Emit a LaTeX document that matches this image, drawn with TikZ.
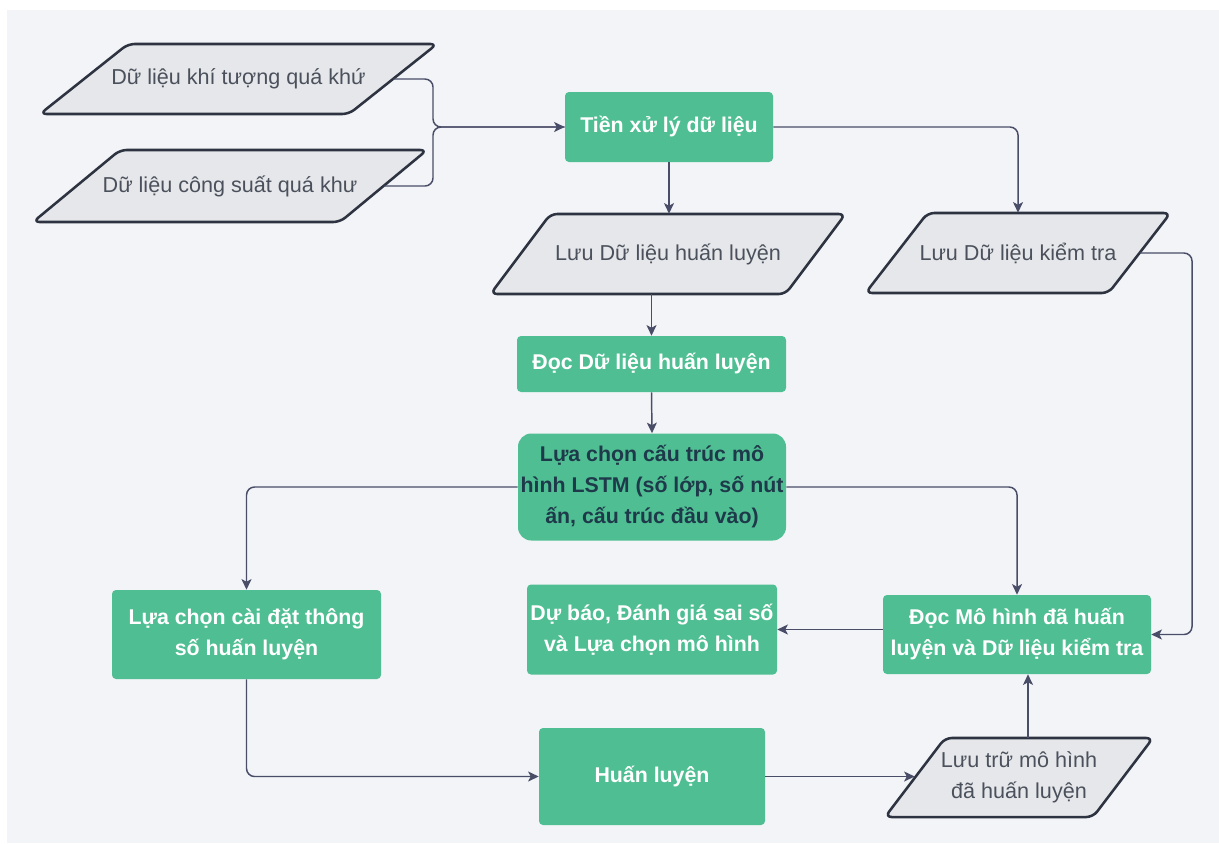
\documentclass[tikz,border=0pt]{standalone}
\usepackage{fontspec}
\setmainfont{Liberation Sans}
\usetikzlibrary{arrows.meta,calc}
\definecolor{bgc}{HTML}{F2F4F7}
\definecolor{grn}{HTML}{4FBF93}
\definecolor{parafill}{HTML}{E6E7EA}
\definecolor{paraedge}{HTML}{2D3340}
\definecolor{conncol}{HTML}{4A4D68}
\definecolor{paratxt}{HTML}{4B515C}
\definecolor{darktxt}{HTML}{1E3A4A}
% #1 name, #2 cx, #3 cy, #4 side width, #5 height, #6 horizontal offset, #7 text
\newcommand{\paranode}[7]{%
  \draw[parashape] ({#2-#4/2+#6/2},{#3-#5/2}) -- ({#2+#4/2+#6/2},{#3-#5/2})
     -- ({#2+#4/2-#6/2},{#3+#5/2}) -- ({#2-#4/2-#6/2},{#3+#5/2}) -- cycle;
  \node[paratext, minimum width=#4*0.75pt, minimum height=#5*0.75pt] (#1) at (#2,#3) {#7};
}
\begin{document}
\begin{tikzpicture}[x=0.75pt,y=-0.75pt,
  box/.style={fill=grn, rounded corners=3pt, inner sep=0pt, align=center, text=white,
    font=\fontsize{16}{23.25}\selectfont\bfseries},
  parashape/.style={fill=parafill, draw=paraedge, line width=1.9pt, rounded corners=5pt, line join=round},
  paratext/.style={inner sep=0pt, align=center, text=paratxt, font=\fontsize{16.2}{23.25}\selectfont},
  conn/.style={draw=conncol, line width=1.1pt, rounded corners=6pt, -{Stealth[length=8pt,width=7.5pt,inset=2pt]}},
  plain/.style={draw=conncol, line width=1.1pt, rounded corners=6pt}]
\useasboundingbox (0,0) rectangle (1219,843);
\fill[white] (0,0) rectangle (1219,843);
\fill[bgc] (7,10) rectangle (1219,843);

% parallelograms
\paranode{pa}{238.5}{79}{309}{70}{88}{Dữ liệu khí tượng quá khứ}
\paranode{pb}{230}{186}{307}{72}{87}{Dữ liệu công suất quá khư}
\paranode{pc}{668}{254}{295}{80}{60}{Lưu Dữ liệu huấn luyện}
\paranode{pd}{1018}{253}{243}{80}{62}{Lưu Dữ liệu kiểm tra}
\paranode{pe}{1019}{777.5}{208}{79}{60}{Lưu trữ mô hình\\đã huấn luyện}

% boxes
\node[box, minimum width=208*0.75pt, minimum height=70*0.75pt] (tx) at (669,127) {Tiền xử lý dữ liệu};
\node[box, minimum width=269*0.75pt, minimum height=56*0.75pt] (dd) at (651.5,364) {Đọc Dữ liệu huấn luyện};
\node[box, rounded corners=10pt, text=darktxt, minimum width=268*0.75pt, minimum height=107*0.75pt] (lc) at (652,487)
  {Lựa chọn cấu trúc mô\\hình LSTM (số lớp, số nút\\ấn, cấu trúc đầu vào)};
\node[box, minimum width=269*0.75pt, minimum height=89*0.75pt] (ls) at (246.5,634.5) {Lựa chọn cài đặt thông\\số huấn luyện};
\node[box, minimum width=250*0.75pt, minimum height=90*0.75pt] (db) at (652,629.5) {Dự báo, Đánh giá sai số\\và Lựa chọn mô hình};
\node[box, minimum width=268*0.75pt, minimum height=79*0.75pt] (dm) at (1017,634.5) {Đọc Mô hình đã huấn\\luyện và Dữ liệu kiểm tra};
\node[box, minimum width=226*0.75pt, minimum height=97*0.75pt] (hl) at (652,776.5) {Huấn luyện};

% connectors
\coordinate (jn) at (433,127);
\draw[plain] (pb.east) -| (jn) -- (tx.west);
\draw[conn] (pa.east) -| (jn) -- (tx.west);
\draw[conn] (tx.south) -- (tx.south |- pc.north);
\draw[conn] (tx.east) -| (pd.north);
\coordinate (rr) at (1192,253);
\draw[conn] (pd.east) -| (rr |- dm.east) -- (dm.east);
\draw[conn] (dd.north |- pc.south) -- (dd.north);
\draw[conn] (dd.south) -- (lc.north);
\draw[conn] (lc.west) -| (ls.north);
\draw[conn] (lc.east) -| (dm.north);
\draw[conn] (ls.south) |- (hl.west);
\draw[conn] (hl.east) -- (hl.east -| pe.west);
\draw[conn] ([xshift=6.75pt]pe.north) coordinate (up) -- (up |- dm.south);
\draw[conn] (dm.west |- db.east) -- (db.east);
\end{tikzpicture}
\end{document}
